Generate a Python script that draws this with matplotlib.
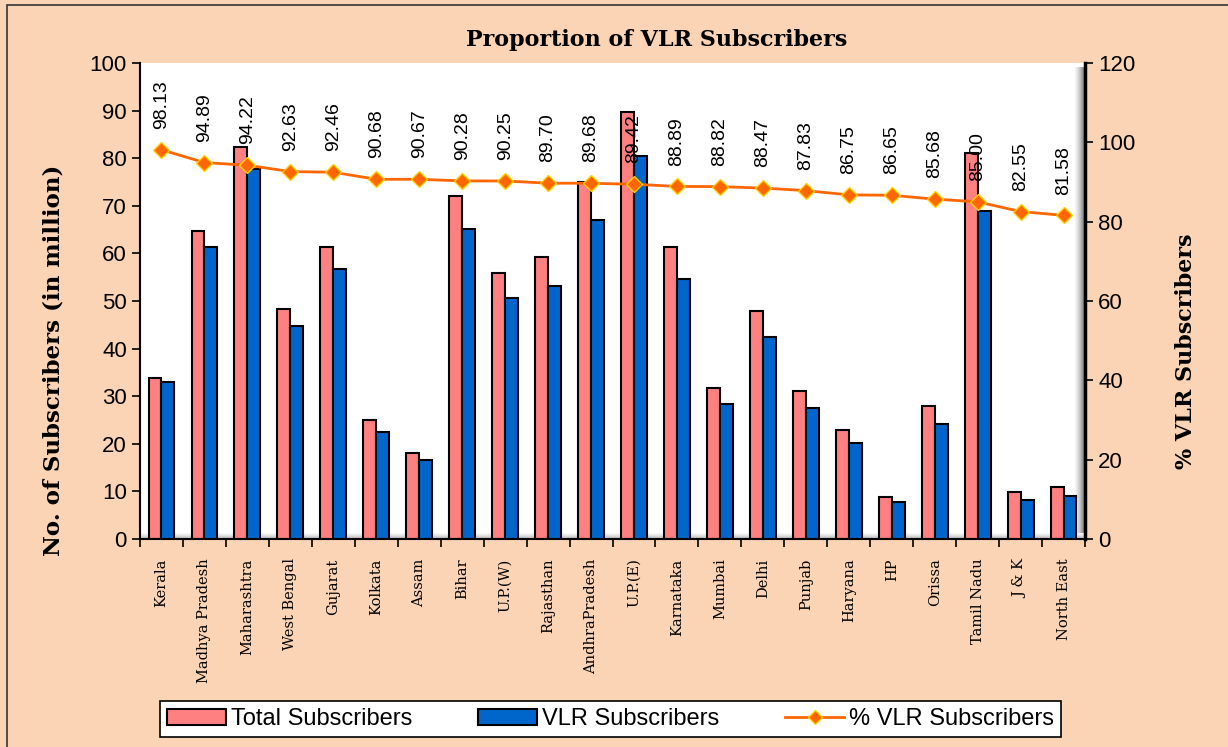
import numpy as np
import matplotlib.pyplot as plt
from matplotlib.patches import Rectangle
from matplotlib.lines import Line2D
from matplotlib.patches import Patch

circles = ['Kerala', 'Madhya Pradesh', 'Maharashtra', 'West Bengal', 'Gujarat', 'Kolkata',
           'Assam', 'Bihar', 'U.P.(W)', 'Rajasthan', 'AndhraPradesh', 'U.P.(E)', 'Karnataka',
           'Mumbai', 'Delhi', 'Punjab', 'Haryana', 'HP', 'Orissa', 'Tamil Nadu', 'J & K',
           'North East']
total_subs = [33.8, 64.6, 82.3, 48.3, 61.4, 24.9, 18.0, 72.1, 55.8, 59.3, 74.9, 89.8, 61.4,
              31.7, 47.9, 31.2, 23.0, 8.8, 28.0, 81.0, 9.8, 10.9]
vlr_subs = [33.0, 61.4, 77.7, 44.7, 56.7, 22.5, 16.5, 65.1, 50.6, 53.2, 67.0, 80.5, 54.6,
            28.4, 42.4, 27.6, 20.1, 7.7, 24.2, 68.9, 8.2, 9.0]
vlr_pct = [98.13, 94.89, 94.22, 92.63, 92.46, 90.68, 90.67, 90.28, 90.25, 89.70, 89.68, 89.42,
           88.89, 88.82, 88.47, 87.83, 86.75, 86.65, 85.68, 85.00, 82.55, 81.58]

bg = '#FAD4B4'
n = len(circles)
fig = plt.figure(figsize=(12.28, 7.47), dpi=100, facecolor=bg)
fig.patches.append(Rectangle((0.006, -0.01), 1.2, 1.003, transform=fig.transFigure,
                             fill=False, edgecolor='#333333', linewidth=1.2))

ax = fig.add_axes([0.114, 0.2784, 0.7696, 0.6373])
ax.set_facecolor('white')
x = np.arange(n)
ax.bar(x - 0.15, total_subs, width=0.3, color='#FF8080', edgecolor='black', linewidth=1.5, zorder=2)
ax.bar(x + 0.15, vlr_subs, width=0.3, color='#0066CC', edgecolor='black', linewidth=1.5, zorder=2)
ax.set_yticks(range(0, 101, 10))
ax.tick_params(axis='y', labelsize=16, direction='out', length=6, width=1.2)
for lab in ax.get_yticklabels():
    lab.set_family('Liberation Sans')
ax.set_xticks(x)
ax.set_xticklabels(circles, rotation=90, family='DejaVu Serif', fontsize=10.5)
ax.tick_params(axis='x', which='major', length=0, pad=14)
ax.set_xticks(np.arange(-0.5, n), minor=True)
ax.tick_params(axis='x', which='minor', direction='out', length=6, width=1.2)
ax.set_ylabel('No. of Subscribers (in million)', family='DejaVu Serif', fontweight='bold',
              fontsize=16.5)
ax.yaxis.set_label_coords(-0.08, 0.375)
for s in ['top', 'right']:
    ax.spines[s].set_visible(False)
ax.spines['left'].set_linewidth(1.5)
ax.spines['bottom'].set_linewidth(1.5)

# grey shading along the right and bottom edges of the plot area
grad = np.linspace(0, 1, 50).reshape(1, -1)
ax.imshow(grad, cmap='Greys', vmin=-0.1, vmax=1.5, aspect='auto',
          extent=(n - 0.74, n - 0.5, 0, 99), zorder=1)
ax.imshow(grad.T, cmap='Greys', vmin=-0.1, vmax=2.5, aspect='auto',
          extent=(-0.5, n - 0.5, 0, 1.2), zorder=1)
ax.set_xlim(-0.5, n - 0.5)
ax.set_ylim(0, 100)

ax2 = ax.twinx()
ax2.plot(x, vlr_pct, color='#FF6600', linewidth=2, marker='D', markersize=8,
         markerfacecolor='#FF6600', markeredgecolor='#FFD200', markeredgewidth=1, zorder=3)
ax2.set_ylim(0, 120)
ax2.set_yticks(range(0, 121, 20))
ax2.tick_params(axis='y', labelsize=16, direction='out', length=6, width=1.2)
for lab in ax2.get_yticklabels():
    lab.set_family('Liberation Sans')
for s in ['top', 'left', 'bottom']:
    ax2.spines[s].set_visible(False)
ax2.spines['right'].set_linewidth(2.5)
ax2.set_ylabel('% VLR Subscribers', family='DejaVu Serif', fontweight='bold', fontsize=16)
ax2.yaxis.set_label_coords(1.095, 0.395)
for xi, v in zip(x, vlr_pct):
    ax2.annotate(f'{v:.2f}', (xi, v), xytext=(0, 15), textcoords='offset points',
                 rotation=90, ha='center', va='bottom', fontsize=14, family='Liberation Sans')

fig.text(0.535, 0.947, 'Proportion of VLR Subscribers', ha='center', va='center',
         family='DejaVu Serif', fontweight='bold', fontsize=16)

handles = [Patch(facecolor='#FF8080', edgecolor='black', linewidth=1.5),
           Patch(facecolor='#0066CC', edgecolor='black', linewidth=1.5),
           Line2D([], [], color='#FF6600', linewidth=2, marker='D', markersize=7,
                  markerfacecolor='#FF6600', markeredgecolor='#FFD200')]
leg = fig.legend(handles, ['Total Subscribers', 'VLR Subscribers', '% VLR Subscribers'],
                 loc='center', bbox_to_anchor=(0.497, 0.037), ncol=3, frameon=True,
                 fancybox=False, edgecolor='black', framealpha=1,
                 prop={'family': 'Liberation Sans', 'size': 17},
                 handlelength=2.5, handletextpad=0.2, columnspacing=2.8, borderpad=0.3)
leg.get_frame().set_linewidth(1.2)

fig.savefig('out.png', dpi=100, facecolor=bg)
